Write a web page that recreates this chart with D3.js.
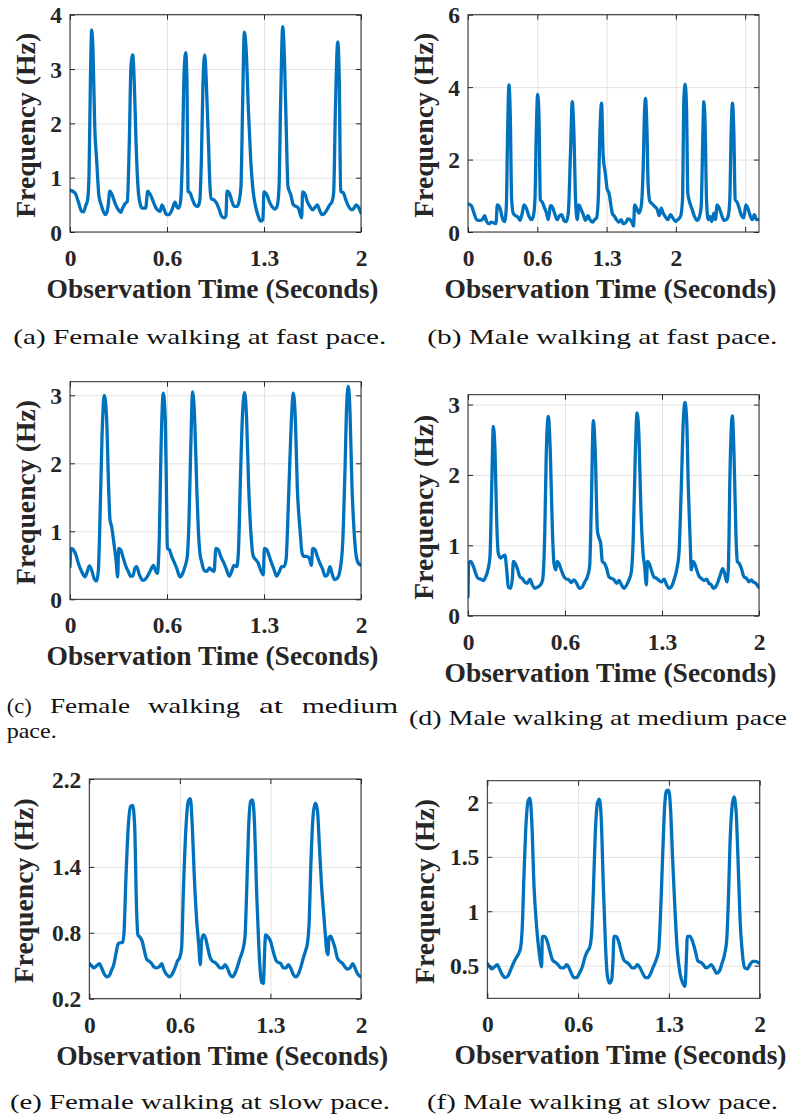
<!DOCTYPE html>
<html>
<head>
<meta charset="utf-8">
<script src="https://cdn.jsdelivr.net/npm/d3@7/dist/d3.min.js"></script>
<style>
  html, body { margin: 0; padding: 0; background: #fff; }
  svg { display: block; }
</style>
</head>
<body>
<svg id="fig" width="788" height="1118"></svg>
<script>
// ---------------- DATA ----------------
const femaleFast = [[0,0.77],[0.034,0.72],[0.057,0.56],[0.080,0.38],[0.092,0.37],[0.110,0.50],[0.121,0.59],[0.131,1.08],[0.140,2.74],[0.149,3.72],[0.158,3.35],[0.170,1.94],[0.183,1.33],[0.199,0.66],[0.218,0.47],[0.241,0.32],[0.252,0.35],[0.263,0.50],[0.273,0.75],[0.293,0.66],[0.309,0.53],[0.332,0.41],[0.348,0.36],[0.362,0.44],[0.378,0.52],[0.394,0.56],[0.408,1.70],[0.419,3.04],[0.431,3.26],[0.442,2.74],[0.454,1.64],[0.467,0.84],[0.481,0.53],[0.495,0.44],[0.520,0.44],[0.534,0.75],[0.550,0.70],[0.568,0.59],[0.584,0.48],[0.600,0.41],[0.619,0.38],[0.632,0.50],[0.646,0.42],[0.664,0.32],[0.680,0.32],[0.701,0.41],[0.722,0.55],[0.735,0.46],[0.749,0.44],[0.761,0.59],[0.772,1.33],[0.784,2.92],[0.795,3.30],[0.804,2.74],[0.811,0.75],[0.825,0.72],[0.843,0.59],[0.861,0.49],[0.877,0.47],[0.891,0.56],[0.903,1.33],[0.914,2.74],[0.926,3.26],[0.937,2.74],[0.951,1.70],[0.962,0.84],[0.971,0.61],[0.990,0.59],[1.008,0.53],[1.026,0.41],[1.042,0.29],[1.061,0.26],[1.072,0.30],[1.079,0.75],[1.095,0.72],[1.111,0.58],[1.129,0.47],[1.148,0.47],[1.164,0.59],[1.175,0.84],[1.187,2.43],[1.198,3.68],[1.212,3.29],[1.226,2.25],[1.242,1.33],[1.260,0.72],[1.278,0.44],[1.294,0.29],[1.310,0.20],[1.326,0.23],[1.333,0.74],[1.352,0.69],[1.370,0.56],[1.388,0.47],[1.407,0.42],[1.423,0.47],[1.436,0.78],[1.448,2.43],[1.462,3.78],[1.475,3.10],[1.487,1.82],[1.498,0.84],[1.517,0.69],[1.535,0.50],[1.553,0.47],[1.569,0.44],[1.583,0.32],[1.592,0.26],[1.599,0.74],[1.615,0.70],[1.631,0.56],[1.649,0.47],[1.668,0.41],[1.686,0.46],[1.700,0.50],[1.714,0.41],[1.732,0.32],[1.748,0.34],[1.766,0.41],[1.785,0.50],[1.801,0.56],[1.812,0.72],[1.824,2.25],[1.840,3.50],[1.851,2.74],[1.860,0.75],[1.879,0.72],[1.897,0.58],[1.915,0.47],[1.936,0.41],[1.952,0.44],[1.966,0.50],[1.982,0.46],[2.000,0.35]];

const maleFast = [[0,0.78],[0.032,0.73],[0.058,0.52],[0.083,0.34],[0.115,0.32],[0.138,0.34],[0.160,0.45],[0.179,0.29],[0.202,0.23],[0.224,0.27],[0.250,0.25],[0.269,0.23],[0.282,0.75],[0.308,0.66],[0.330,0.39],[0.353,0.29],[0.369,0.71],[0.381,2.73],[0.394,4.06],[0.407,3.19],[0.420,0.89],[0.436,0.51],[0.458,0.45],[0.481,0.41],[0.500,0.32],[0.522,0.52],[0.538,0.75],[0.561,0.66],[0.587,0.43],[0.609,0.34],[0.628,0.43],[0.644,0.89],[0.657,2.73],[0.670,3.80],[0.683,3.19],[0.696,0.89],[0.715,0.82],[0.737,0.66],[0.756,0.52],[0.772,0.34],[0.795,0.73],[0.817,0.66],[0.837,0.48],[0.859,0.34],[0.881,0.45],[0.901,0.48],[0.923,0.32],[0.946,0.29],[0.965,0.52],[0.987,2.27],[1.003,3.60],[1.019,2.73],[1.035,0.89],[1.051,0.34],[1.067,0.75],[1.083,0.66],[1.109,0.48],[1.131,0.32],[1.154,0.45],[1.173,0.34],[1.196,0.27],[1.218,0.34],[1.237,0.39],[1.253,0.89],[1.269,2.73],[1.285,3.56],[1.301,2.09],[1.321,1.63],[1.340,1.17],[1.356,1.08],[1.372,0.80],[1.388,0.52],[1.410,0.43],[1.429,0.34],[1.452,0.27],[1.474,0.34],[1.494,0.23],[1.516,0.25],[1.538,0.36],[1.558,0.34],[1.577,0.27],[1.593,0.16],[1.603,0.75],[1.622,0.66],[1.644,0.52],[1.667,0.71],[1.686,1.81],[1.699,3.37],[1.708,3.69],[1.721,2.91],[1.734,1.26],[1.750,0.85],[1.772,0.78],[1.795,0.71],[1.821,0.62],[1.840,0.45],[1.859,0.66],[1.878,0.52],[1.901,0.41],[1.923,0.34],[1.949,0.48],[1.971,0.39],[1.997,0.29],[2.019,0.34],[2.045,0.43],[2.064,0.89],[2.077,3.65],[2.090,4.08],[2.103,3.37],[2.115,1.08],[2.135,0.80],[2.157,0.62],[2.179,0.43],[2.205,0.32],[2.228,0.43],[2.244,0.71],[2.260,2.73],[2.269,3.60],[2.282,2.91],[2.295,0.89],[2.311,0.34],[2.327,0.43],[2.346,0.29],[2.365,0.52],[2.381,0.34],[2.397,0.75],[2.417,0.66],[2.439,0.48],[2.462,0.32],[2.484,0.34],[2.503,0.43],[2.519,0.89],[2.532,2.73],[2.545,3.56],[2.558,2.73],[2.571,0.89],[2.590,0.82],[2.609,0.66],[2.628,0.48],[2.654,0.39],[2.673,0.75],[2.692,0.66],[2.712,0.48],[2.734,0.34],[2.756,0.48],[2.776,0.34],[2.798,0.34]];

const femaleMedium = [[0,0.48],[0.007,0.75],[0.023,0.73],[0.041,0.65],[0.057,0.53],[0.080,0.41],[0.103,0.33],[0.119,0.41],[0.133,0.49],[0.149,0.43],[0.165,0.31],[0.183,0.27],[0.195,0.43],[0.206,1.17],[0.220,2.39],[0.236,3.00],[0.252,2.64],[0.266,1.61],[0.275,1.17],[0.286,1.07],[0.302,0.82],[0.316,0.58],[0.328,0.33],[0.334,0.75],[0.348,0.73],[0.367,0.60],[0.385,0.48],[0.401,0.41],[0.417,0.34],[0.431,0.34],[0.447,0.46],[0.458,0.48],[0.477,0.36],[0.499,0.28],[0.515,0.29],[0.538,0.36],[0.554,0.43],[0.573,0.50],[0.591,0.41],[0.600,0.38],[0.614,0.92],[0.625,2.15],[0.641,3.03],[0.655,2.64],[0.664,1.41],[0.669,0.75],[0.683,0.73],[0.699,0.63],[0.715,0.55],[0.733,0.46],[0.756,0.33],[0.774,0.38],[0.790,0.48],[0.806,0.63],[0.818,1.17],[0.829,2.15],[0.843,3.05],[0.857,2.64],[0.871,1.66],[0.882,1.02],[0.893,0.68],[0.905,0.55],[0.921,0.43],[0.939,0.41],[0.958,0.46],[0.974,0.43],[0.990,0.41],[1.003,0.75],[1.019,0.73],[1.036,0.63],[1.054,0.55],[1.072,0.46],[1.095,0.34],[1.111,0.41],[1.127,0.50],[1.146,0.48],[1.157,0.68],[1.173,1.90],[1.187,2.78],[1.201,3.04],[1.214,2.64],[1.228,1.66],[1.242,1.02],[1.260,0.63],[1.278,0.58],[1.294,0.53],[1.310,0.43],[1.329,0.36],[1.336,0.75],[1.352,0.73],[1.370,0.63],[1.386,0.53],[1.402,0.44],[1.420,0.34],[1.439,0.41],[1.455,0.48],[1.471,0.48],[1.485,0.58],[1.501,1.41],[1.517,2.39],[1.535,3.03],[1.549,2.64],[1.562,1.66],[1.581,1.02],[1.595,0.68],[1.608,0.63],[1.627,0.63],[1.645,0.60],[1.659,0.50],[1.668,0.75],[1.684,0.73],[1.700,0.63],[1.718,0.53],[1.737,0.44],[1.753,0.34],[1.769,0.36],[1.787,0.48],[1.801,0.38],[1.817,0.29],[1.837,0.31],[1.856,0.43],[1.874,0.82],[1.890,1.90],[1.902,2.88],[1.913,3.13],[1.924,2.78],[1.938,1.66],[1.952,1.02],[1.966,0.65],[1.982,0.53],[2.000,0.50]];

const maleMedium = [[0,0.27],[0.005,0.74],[0.018,0.77],[0.037,0.70],[0.053,0.60],[0.069,0.53],[0.087,0.52],[0.105,0.50],[0.121,0.55],[0.137,0.65],[0.151,0.84],[0.163,1.83],[0.174,2.69],[0.186,2.31],[0.197,1.36],[0.208,0.89],[0.225,0.82],[0.243,0.85],[0.254,0.86],[0.266,0.65],[0.277,0.41],[0.293,0.39],[0.305,0.53],[0.312,0.77],[0.325,0.74],[0.339,0.67],[0.357,0.55],[0.373,0.53],[0.389,0.48],[0.408,0.46],[0.426,0.52],[0.442,0.44],[0.458,0.39],[0.481,0.41],[0.499,0.44],[0.513,0.51],[0.527,1.12],[0.538,2.31],[0.552,2.83],[0.566,2.31],[0.580,1.22],[0.591,0.74],[0.603,0.65],[0.614,0.77],[0.625,0.74],[0.641,0.65],[0.660,0.55],[0.678,0.52],[0.694,0.51],[0.710,0.47],[0.729,0.51],[0.747,0.46],[0.765,0.39],[0.786,0.41],[0.802,0.48],[0.820,0.55],[0.836,0.70],[0.848,1.60],[0.861,2.77],[0.875,2.31],[0.889,1.22],[0.898,1.12],[0.912,1.03],[0.923,0.77],[0.939,0.74],[0.953,0.67],[0.969,0.55],[0.985,0.53],[1.003,0.51],[1.022,0.46],[1.038,0.50],[1.054,0.44],[1.072,0.39],[1.091,0.44],[1.107,0.51],[1.123,0.63],[1.136,1.12],[1.150,2.31],[1.162,2.88],[1.175,2.55],[1.187,1.60],[1.203,0.89],[1.214,0.70],[1.226,0.44],[1.233,0.77],[1.246,0.74],[1.260,0.65],[1.278,0.55],[1.297,0.53],[1.313,0.50],[1.329,0.48],[1.347,0.52],[1.365,0.44],[1.381,0.39],[1.397,0.41],[1.416,0.51],[1.434,0.65],[1.450,0.89],[1.466,1.83],[1.480,2.78],[1.491,3.03],[1.503,2.78],[1.514,1.83],[1.526,1.12],[1.535,0.65],[1.546,0.77],[1.558,0.74],[1.572,0.65],[1.588,0.56],[1.604,0.53],[1.622,0.50],[1.640,0.52],[1.656,0.46],[1.672,0.44],[1.686,0.39],[1.702,0.41],[1.718,0.48],[1.737,0.60],[1.750,0.67],[1.764,0.60],[1.778,0.48],[1.789,0.65],[1.801,2.07],[1.817,2.84],[1.828,2.31],[1.842,1.12],[1.851,0.77],[1.865,0.74],[1.879,0.67],[1.897,0.55],[1.915,0.53],[1.931,0.48],[1.947,0.51],[1.961,0.48],[1.977,0.46],[2.000,0.40]];

const femaleSlow = [[0,0.52],[0.017,0.50],[0.034,0.48],[0.054,0.50],[0.074,0.52],[0.091,0.48],[0.108,0.43],[0.128,0.40],[0.147,0.41],[0.164,0.46],[0.182,0.52],[0.196,0.61],[0.213,0.70],[0.231,0.71],[0.245,0.71],[0.255,0.79],[0.270,1.31],[0.287,1.77],[0.304,1.95],[0.319,1.96],[0.334,1.77],[0.348,1.01],[0.358,0.78],[0.373,0.76],[0.390,0.72],[0.405,0.64],[0.422,0.56],[0.442,0.54],[0.459,0.52],[0.476,0.49],[0.496,0.48],[0.515,0.49],[0.533,0.52],[0.550,0.46],[0.569,0.42],[0.594,0.40],[0.613,0.43],[0.631,0.48],[0.648,0.54],[0.667,0.58],[0.680,0.67],[0.692,1.16],[0.712,1.77],[0.729,2.00],[0.744,2.02],[0.758,1.77],[0.773,1.31],[0.790,0.92],[0.805,0.70],[0.817,0.51],[0.827,0.73],[0.839,0.78],[0.856,0.75],[0.871,0.67],[0.888,0.58],[0.908,0.54],[0.925,0.53],[0.942,0.51],[0.962,0.48],[0.982,0.48],[0.999,0.51],[1.016,0.48],[1.036,0.42],[1.053,0.40],[1.072,0.43],[1.090,0.49],[1.110,0.57],[1.129,0.64],[1.146,0.76],[1.158,1.16],[1.173,1.77],[1.188,2.00],[1.202,2.01],[1.217,1.77],[1.232,1.16],[1.247,0.70],[1.256,0.49],[1.269,0.35],[1.281,0.34],[1.293,0.70],[1.298,0.78],[1.318,0.76],[1.335,0.72],[1.354,0.63],[1.374,0.55],[1.391,0.53],[1.409,0.52],[1.428,0.48],[1.448,0.48],[1.465,0.51],[1.482,0.48],[1.502,0.42],[1.521,0.40],[1.541,0.43],[1.558,0.49],[1.575,0.57],[1.593,0.64],[1.605,0.70],[1.617,0.86],[1.632,1.46],[1.649,1.89],[1.664,1.98],[1.679,1.92],[1.693,1.61],[1.710,1.22],[1.723,1.01],[1.737,0.79],[1.747,0.64],[1.757,0.60],[1.764,0.76],[1.777,0.77],[1.791,0.73],[1.809,0.66],[1.826,0.57],[1.845,0.54],[1.865,0.52],[1.882,0.49],[1.899,0.47],[1.919,0.48],[1.939,0.52],[1.956,0.48],[1.973,0.43],[2.000,0.40]];

const maleSlow = [[0,0.52],[0.017,0.49],[0.034,0.47],[0.054,0.49],[0.073,0.51],[0.093,0.46],[0.113,0.41],[0.135,0.39],[0.154,0.41],[0.171,0.46],[0.191,0.52],[0.211,0.57],[0.230,0.61],[0.245,0.67],[0.257,0.86],[0.269,1.32],[0.286,1.84],[0.301,2.02],[0.313,2.04],[0.326,1.84],[0.343,1.23],[0.362,0.86],[0.382,0.61],[0.399,0.49],[0.404,0.77],[0.421,0.77],[0.441,0.72],[0.460,0.63],[0.480,0.55],[0.502,0.53],[0.519,0.51],[0.539,0.48],[0.563,0.48],[0.583,0.51],[0.600,0.48],[0.617,0.43],[0.636,0.39],[0.656,0.39],[0.676,0.43],[0.698,0.49],[0.715,0.57],[0.734,0.63],[0.752,0.67],[0.766,0.80],[0.778,1.16],[0.793,1.72],[0.808,1.99],[0.823,2.03],[0.837,1.84],[0.852,1.23],[0.867,0.71],[0.881,0.41],[0.898,0.34],[0.913,0.37],[0.923,0.55],[0.930,0.77],[0.947,0.77],[0.967,0.71],[0.987,0.61],[1.004,0.55],[1.023,0.53],[1.043,0.51],[1.062,0.48],[1.082,0.48],[1.102,0.51],[1.121,0.48],[1.141,0.43],[1.160,0.39],[1.180,0.39],[1.200,0.43],[1.219,0.49],[1.239,0.55],[1.258,0.64],[1.273,1.01],[1.288,1.53],[1.302,1.96],[1.317,2.11],[1.332,2.11],[1.346,1.93],[1.361,1.47],[1.378,1.01],[1.395,0.64],[1.415,0.43],[1.435,0.34],[1.452,0.31],[1.461,0.55],[1.469,0.77],[1.488,0.77],[1.508,0.72],[1.528,0.63],[1.547,0.54],[1.567,0.53],[1.586,0.51],[1.606,0.48],[1.625,0.49],[1.645,0.51],[1.665,0.47],[1.684,0.43],[1.704,0.45],[1.723,0.52],[1.743,0.61],[1.758,0.74],[1.770,1.10],[1.782,1.62],[1.797,1.96],[1.811,2.05],[1.826,1.93],[1.841,1.47],[1.856,0.92],[1.873,0.61],[1.890,0.48],[1.909,0.47],[1.929,0.51],[1.949,0.54],[1.968,0.54],[2.000,0.52]];

// tick values / labels
const xTicksStd = [0, 0.6667, 1.3333, 2];
const xTickLabelsStd = ["0", "0.6", "1.3", "2"];
const xTicksMaleFast = [0, 0.6667, 1.3333, 2, 2.6667];
const xTickLabelsMaleFast = ["0", "0.6", "1.3", "2", ""];
const yTicksFemaleFast = [0, 1, 2, 3, 4];
const yTicksMaleFast = [0, 2, 4, 6];
const yTicksMedium = [0, 1, 2, 3];
const yTicksFemaleSlow = [0.2, 0.8, 1.4, 2.2];
const yTickLabelsFemaleSlow = ["0.2", "0.8", "1.4", "2.2"];
const yTicksMaleSlow = [0.5, 1, 1.5, 2];
const yTickLabelsMaleSlow = ["0.5", "1", "1.5", "2"];

const xLabelText = "Observation Time (Seconds)";
const yLabelText = "Frequency (Hz)";

const captionTexts = [
  "(a) Female walking at fast pace.",
  "(b) Male walking at fast pace.",
  "(d) Male walking at medium pace",
  "(e) Female walking at slow pace.",
  "(f) Male walking at slow pace."
];
const captionCWords = ["(c)", "Female", "walking", "at", "medium", "pace."];

// ---------------- LAYOUT ----------------
const panels = [
  {data: femaleFast, box: [70, 14.7, 361, 232], xDomain: [0, 2], xTicks: xTicksStd, xLabels: xTickLabelsStd,
   yDomain: [0, 4], yTicks: yTicksFemaleFast, yLabels: null, yLabelX: 35},
  {data: maleFast, box: [468, 14.7, 759, 232], xDomain: [0, 2.8], xTicks: xTicksMaleFast, xLabels: xTickLabelsMaleFast,
   yDomain: [0, 6], yTicks: yTicksMaleFast, yLabels: null, yLabelX: 433},
  {data: femaleMedium, box: [70, 381.7, 361, 599.3], xDomain: [0, 2], xTicks: xTicksStd, xLabels: xTickLabelsStd,
   yDomain: [0, 3.2], yTicks: yTicksMedium, yLabels: null, yLabelX: 35},
  {data: maleMedium, box: [468, 394.7, 759, 615.7], xDomain: [0, 2], xTicks: xTicksStd, xLabels: xTickLabelsStd,
   yDomain: [0, 3.14], yTicks: yTicksMedium, yLabels: null, yLabelX: 433},
  {data: femaleSlow, box: [89.3, 779, 361, 998.7], xDomain: [0, 2], xTicks: xTicksStd, xLabels: xTickLabelsStd,
   yDomain: [0.2, 2.2], yTicks: yTicksFemaleSlow, yLabels: yTickLabelsFemaleSlow, yLabelX: 33},
  {data: maleSlow, box: [487.3, 780.7, 759.7, 998.3], xDomain: [0, 2], xTicks: xTicksStd, xLabels: xTickLabelsStd,
   yDomain: [0.2, 2.2], yTicks: yTicksMaleSlow, yLabels: yTickLabelsMaleSlow, yLabelX: 434}
];

const captionLayout = [
  {x: 13.3, y: 344, w: 373},
  {x: 427.3, y: 344, w: 350},
  {x: 409, y: 725, w: 378},
  {x: 10, y: 1109, w: 380},
  {x: 427, y: 1109, w: 351}
];
const captionCLayout = [
  {x: 6.7, y: 713, w: 25}, {x: 50, y: 713, w: 80}, {x: 148, y: 713, w: 92},
  {x: 259, y: 713, w: 24}, {x: 302, y: 713, w: 96}, {x: 6.7, y: 738, w: 50}
];

const AX = "#262626", GRID = "#e3e3e3", LINE = "#0072BD";
const FONT = "Liberation Serif";

const svg = d3.select("#fig");
svg.append("rect").attr("width", 788).attr("height", 1118).attr("fill", "#fff");

panels.forEach((p, i) => {
  const [x0, y0, x1, y1] = p.box;
  const w = x1 - x0, h = y1 - y0;
  const x = d3.scaleLinear().domain(p.xDomain).range([x0, x1]);
  const y = d3.scaleLinear().domain(p.yDomain).range([y1, y0]);
  const g = svg.append("g");

  // grid
  const gx = g.append("g").attr("transform", `translate(0,${y1})`)
    .call(d3.axisBottom(x).tickValues(p.xTicks).tickSize(-h).tickFormat(""));
  const gy = g.append("g").attr("transform", `translate(${x0},0)`)
    .call(d3.axisLeft(y).tickValues(p.yTicks).tickSize(-w).tickFormat(""));
  [gx, gy].forEach(s => {
    s.select(".domain").remove();
    s.selectAll("line").attr("stroke", GRID).attr("stroke-width", 1);
  });

  // clip + line
  const cid = "clip" + i;
  g.append("clipPath").attr("id", cid).append("rect")
    .attr("x", x0).attr("y", y0 - 2).attr("width", w).attr("height", h + 2);
  const line = d3.line().x(d => x(d[0])).y(d => y(d[1])).curve(d3.curveMonotoneX);
  g.append("path").datum(p.data).attr("d", line)
    .attr("fill", "none").attr("stroke", LINE).attr("stroke-width", 3.3)
    .attr("stroke-linejoin", "round").attr("stroke-linecap", "round")
    .attr("clip-path", `url(#${cid})`);

  // axes with inward ticks
  const tick = 5;
  const bx = g.append("g").attr("transform", `translate(0,${y1})`)
    .call(d3.axisBottom(x).tickValues(p.xTicks).tickSizeInner(-tick).tickSizeOuter(0)
      .tickFormat((d, k) => p.xLabels[k]));
  const tx = g.append("g").attr("transform", `translate(0,${y0})`)
    .call(d3.axisTop(x).tickValues(p.xTicks).tickSizeInner(-tick).tickSizeOuter(0).tickFormat(""));
  const ly = g.append("g").attr("transform", `translate(${x0},0)`)
    .call(d3.axisLeft(y).tickValues(p.yTicks).tickSizeInner(-tick).tickSizeOuter(0)
      .tickFormat((d, k) => p.yLabels ? p.yLabels[k] : String(d)));
  const ry = g.append("g").attr("transform", `translate(${x1},0)`)
    .call(d3.axisRight(y).tickValues(p.yTicks).tickSizeInner(-tick).tickSizeOuter(0).tickFormat(""));
  [bx, tx, ly, ry].forEach(s => {
    s.select(".domain").remove();
    s.selectAll("line").attr("stroke", AX).attr("stroke-width", 1);
  });
  bx.selectAll("text").attr("y", 34).attr("dy", null)
    .style("font-family", FONT).style("font-weight", "bold").style("font-size", "23.5px").attr("fill", AX);
  ly.selectAll("text").attr("x", -8).attr("dy", "0.34em")
    .style("font-family", FONT).style("font-weight", "bold").style("font-size", "23.5px").attr("fill", AX);

  // box
  g.append("rect").attr("x", x0).attr("y", y0).attr("width", w).attr("height", h)
    .attr("fill", "none").attr("stroke", AX).attr("stroke-width", 1);

  // axis titles
  g.append("text").text(xLabelText)
    .attr("x", (x0 + x1) / 2 - 3).attr("y", y1 + 66)
    .attr("text-anchor", "middle")
    .style("font-family", FONT).style("font-weight", "bold").style("font-size", "27px")
    .attr("fill", AX)
    .attr("textLength", 332).attr("lengthAdjust", "spacingAndGlyphs");
  g.append("text").text(yLabelText)
    .attr("transform", `translate(${p.yLabelX},${(y0 + y1) / 2 + 2}) rotate(-90)`)
    .attr("text-anchor", "middle")
    .style("font-family", FONT).style("font-weight", "bold").style("font-size", "27.5px")
    .attr("fill", AX)
    .attr("textLength", 185).attr("lengthAdjust", "spacingAndGlyphs");
});

// captions
captionTexts.forEach((t, i) => {
  const c = captionLayout[i];
  svg.append("text").text(t).attr("x", c.x).attr("y", c.y)
    .style("font-family", FONT).style("font-size", "21px").attr("fill", "#111")
    .attr("textLength", c.w).attr("lengthAdjust", "spacingAndGlyphs");
});
captionCWords.forEach((t, i) => {
  const c = captionCLayout[i];
  svg.append("text").text(t).attr("x", c.x).attr("y", c.y)
    .style("font-family", FONT).style("font-size", "21px").attr("fill", "#111")
    .attr("textLength", c.w).attr("lengthAdjust", "spacingAndGlyphs");
});
</script>
</body>
</html>
